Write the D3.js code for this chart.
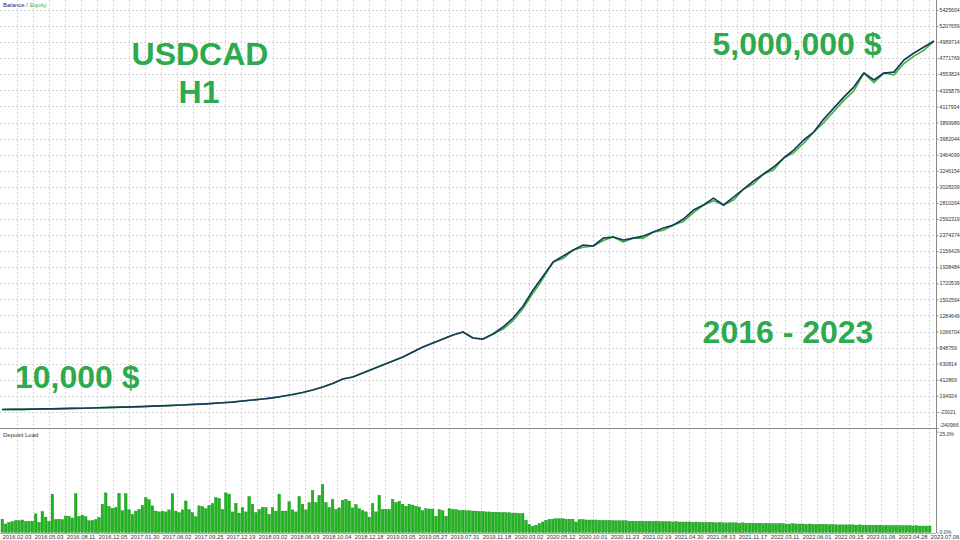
<!DOCTYPE html>
<html><head><meta charset="utf-8">
<script src="https://cdn.jsdelivr.net/npm/d3@7"></script>
<style>
html,body{margin:0;padding:0;background:#fff;}
svg{display:block;}
</style></head>
<body>
<svg id="c" width="960" height="540"></svg>
<script>
// ---- data ----
const yTickValues = [5425604,5207659,4989714,4771769,4553824,4335879,4117934,3899989,3682044,3464099,3246154,3028209,2810264,2592319,2374374,2156429,1938484,1720539,1502594,1284649,1066704,848759,630814,412869,194924,-23021,-240966];
const xTickLabels = ["2016.02.03","2016.05.03","2016.08.11","2016.12.05","2017.01.30","2017.06.02","2017.09.25","2017.12.19","2018.03.02","2018.06.19","2018.10.04","2018.12.18","2019.03.05","2019.05.27","2019.07.31","2019.11.18","2020.03.02","2020.05.12","2020.10.01","2020.11.23","2021.02.19","2021.04.30","2021.08.13","2021.11.17","2022.03.11","2022.06.01","2022.09.15","2023.01.06","2023.04.28","2023.07.06"];
const balance = [10000,11000,12000,15000,17000,19000,22000,25000,27000,30000,34000,38000,42000,46000,50000,55000,60000,65000,71000,78000,84000,92000,101000,111000,125000,139000,152000,168000,189000,213000,240000,274000,315000,362000,423000,450000,505000,559000,613000,667000,721000,789000,857000,911000,965000,1020000,1060000,979000,965000,1033000,1128000,1250000,1413000,1629000,1819000,2009000,2090000,2172000,2239000,2226000,2334000,2348000,2307000,2334000,2361000,2416000,2470000,2510000,2592000,2714000,2782000,2876000,2782000,2890000,2998000,3107000,3202000,3297000,3419000,3527000,3663000,3771000,3947000,4096000,4245000,4381000,4571000,4476000,4571000,4584000,4747000,4842000,4923000,5004000];
const equity = [10000,11000,12000,15000,17000,19000,22000,25000,27000,30000,34000,38000,42000,46000,50000,55000,60000,65000,71000,78000,84000,92000,101000,111000,125000,139000,152000,168000,189000,213000,240000,274000,315000,362000,423000,450000,505000,559000,613000,667000,721000,789000,857000,911000,965000,1020000,1060000,979000,965000,1033000,1100000,1215000,1380000,1590000,1790000,2009000,2060000,2172000,2210000,2226000,2300000,2348000,2280000,2334000,2330000,2416000,2440000,2510000,2560000,2680000,2782000,2840000,2782000,2850000,2998000,3070000,3202000,3260000,3419000,3490000,3620000,3771000,3900000,4050000,4200000,4330000,4571000,4440000,4571000,4545000,4700000,4800000,4880000,5004000];
const depositLoad = [
3.3,2.1,2.5,2.7,2.9,2.9,3.1,2.7,2.8,2.8,
4.6,2.5,5.2,3.8,2.7,9.5,3.2,3.3,3.2,4.1,
4.0,3.6,9.6,4.0,4.3,3.9,2.9,3.0,3.2,3.7,
7.0,9.8,6.4,6.0,6.2,9.7,5.4,9.6,5.6,4.5,
5.3,5.7,6.7,8.6,8.1,6.6,5.3,5.1,5.3,5.1,
5.6,9.6,5.3,4.9,5.6,7.8,5.7,4.9,3.9,6.6,
6.4,5.9,6.7,7.2,8.6,8.4,5.7,9.8,9.5,5.1,
7.2,4.8,6.2,5.1,8.9,7.0,4.9,5.7,6.2,6.2,
4.5,6.2,5.3,9.5,5.3,5.3,7.6,5.6,5.1,8.9,
7.0,5.6,7.4,10.4,7.4,9.2,11.9,7.4,6.2,8.2,
5.7,6.1,8.0,8.2,7.8,6.1,6.9,5.9,5.5,5.1,
3.8,7.2,5.1,9.2,5.7,5.7,5.7,8.2,7.4,7.7,
7.0,6.5,7.0,6.8,6.5,6.3,5.4,5.9,5.8,5.8,
4.0,5.7,5.4,4.0,5.9,5.7,5.7,5.5,5.5,5.4,
5.4,5.3,5.3,5.2,5.2,5.1,5.1,5.0,5.0,5.0,
4.9,4.9,4.9,4.8,4.8,4.7,4.7,3.0,2.0,1.5,
1.8,2.2,2.6,3.0,3.3,3.3,3.4,3.4,3.4,3.3,
3.3,3.3,2.6,3.2,3.2,3.1,3.1,3.1,3.1,3.0,
3.0,3.0,3.0,2.9,2.9,2.9,2.9,2.9,2.8,2.8,
2.8,2.8,2.8,2.8,2.8,2.7,2.8,2.7,2.7,2.7,
2.7,2.6,2.7,2.6,2.6,2.6,2.6,2.5,2.6,2.5,
2.5,2.5,2.5,2.5,2.4,2.5,2.4,2.4,2.4,2.4,
2.4,2.3,2.4,2.3,2.3,2.3,2.3,2.3,2.2,2.3,
2.2,2.2,2.2,2.2,2.2,2.1,2.1,2.2,2.1,2.1,
2.1,2.0,2.1,2.0,2.0,2.0,2.0,2.0,1.9,2.0,
1.9,1.9,1.9,1.9,1.9,1.9,1.8,1.9,1.8,1.8,
1.8,1.8,1.8,1.8,1.7,1.8,1.7,1.7,1.7,1.7,
1.7,1.7,1.7,1.6,1.7,1.6,1.6,1.6,1.6];
const depTickLabels = ["25.0%","0.0%"];
const depTickValues = [25,0];
const annotations = ["USDCAD","H1","5,000,000 $","2016 - 2023","10,000 $"];

// ---- drawing ----
const svg = d3.select("#c");
const FONT = "'Liberation Sans', Arial, sans-serif";
const plotRight = 936;
const mainTop = 0, mainBottom = 428;
const depTop = 430, depBottom = 533;

const yMain = d3.scaleLinear().domain([-240966, 5425604]).range([428, 10]);
const xMain = d3.scaleLinear().domain([0, balance.length - 1]).range([2, 934]);
const xLab = d3.scaleLinear().domain([0, xTickLabels.length - 1]).range([17, 945]);
const yDep = d3.scaleLinear().domain([0, 25]).range([532.5, 431.5]);
const xBar = d3.scaleBand().domain(d3.range(depositLoad.length)).range([1, 931]).paddingInner(0.22);

svg.append("rect").attr("width",960).attr("height",540).attr("fill","#fff");

// grids
const gridCol = "#d4d4d4";
const vGrid = d3.range(0, (xTickLabels.length - 1) * 2).map(i => xLab(i / 2)).filter(x => x < plotRight);
const g = svg.append("g");
g.selectAll("line.vg").data(vGrid).join("line")
  .attr("x1", d => Math.round(d) + 0.5).attr("x2", d => Math.round(d) + 0.5)
  .attr("y1", mainTop).attr("y2", depBottom)
  .attr("stroke", gridCol).attr("stroke-width", 1).attr("stroke-dasharray", "2,2");
g.selectAll("line.hg").data(yTickValues.slice(0, -1)).join("line")
  .attr("x1", 0).attr("x2", plotRight)
  .attr("y1", d => Math.round(yMain(d)) + 0.5).attr("y2", d => Math.round(yMain(d)) + 0.5)
  .attr("stroke", gridCol).attr("stroke-width", 1).attr("stroke-dasharray", "2,2");

// frames
svg.append("line").attr("x1", plotRight + 0.5).attr("x2", plotRight + 0.5).attr("y1", 0).attr("y2", depBottom)
  .attr("stroke", "#8a8a8a").attr("stroke-width", 1);
svg.append("line").attr("x1", 0).attr("x2", plotRight).attr("y1", mainBottom + 0.5).attr("y2", mainBottom + 0.5)
  .attr("stroke", "#8a8a8a").attr("stroke-width", 1);
svg.append("line").attr("x1", 0).attr("x2", plotRight).attr("y1", depBottom + 0.5).attr("y2", depBottom + 0.5)
  .attr("stroke", "#b0b0b0").attr("stroke-width", 1);

// right axis main
const axR = d3.axisRight(yMain).tickValues(yTickValues).tickSize(2).tickFormat(d => String(d));
const ga = svg.append("g").attr("transform", `translate(${plotRight + 0.5},0)`).call(axR);
ga.select(".domain").remove();
ga.selectAll("line").attr("stroke", "#8a8a8a");
ga.selectAll("text").attr("font-family", FONT).attr("font-size", 5.2).attr("fill", "#333").attr("x", 3);
ga.selectAll("text").filter(d => d === -240966).attr("dy", "-0.2em");

// deposit axis
const axD = d3.axisRight(yDep).tickValues(depTickValues).tickSize(2).tickFormat((d, i) => depTickLabels[i]);
const gd = svg.append("g").attr("transform", `translate(${plotRight + 0.5},0)`).call(axD);
gd.select(".domain").remove();
gd.selectAll("line").attr("stroke", "#8a8a8a");
gd.selectAll("text").attr("font-family", FONT).attr("font-size", 5.2).attr("fill", "#333").attr("x", 3)
  .attr("dy", (d) => d === 0 ? "0.1em" : "0.7em");

// bottom axis
const gx = svg.append("g");
gx.selectAll("text").data(xTickLabels).join("text")
  .attr("x", (d, i) => xLab(i)).attr("y", 539)
  .attr("text-anchor", "middle").attr("font-family", FONT).attr("font-size", 5.8).attr("fill", "#333")
  .text(d => d);

// deposit bars
svg.append("g").selectAll("rect").data(depositLoad).join("rect")
  .attr("x", (d, i) => xBar(i)).attr("width", xBar.bandwidth())
  .attr("y", d => yDep(d)).attr("height", d => yDep(0) - yDep(d))
  .attr("fill", "#22b422").attr("stroke", "#0f8f0f").attr("stroke-width", 0.4);

// equity + balance lines
const lineGen = d3.line().x((d, i) => xMain(i)).y(d => yMain(d));
svg.append("path").datum(equity).attr("d", lineGen).attr("fill", "none")
  .attr("stroke", "#3cb43c").attr("stroke-width", 1.6).attr("stroke-linejoin", "round");
svg.append("path").datum(balance).attr("d", lineGen).attr("fill", "none")
  .attr("stroke", "#173a5e").attr("stroke-width", 1.7).attr("stroke-linejoin", "round");

// small titles
const lg = svg.append("text").attr("x", 3).attr("y", 7).attr("font-family", FONT).attr("font-size", 6);
lg.append("tspan").attr("fill", "#1a237e").text("Balance");
lg.append("tspan").attr("fill", "#555").text(" / ");
lg.append("tspan").attr("fill", "#3cb43c").text("Equity");
svg.append("text").attr("x", 3).attr("y", 437).attr("font-family", FONT).attr("font-size", 6).attr("fill", "#333").text("Deposit Load");

// annotations
const green = "#2eaa4e";
const ann = [
  {t: annotations[0], x: 200, y: 65, a: "middle"},
  {t: annotations[1], x: 199, y: 103, a: "middle"},
  {t: annotations[2], x: 797, y: 55, a: "middle"},
  {t: annotations[3], x: 788, y: 343, a: "middle"},
  {t: annotations[4], x: 15, y: 388, a: "start"}
];
svg.append("g").selectAll("text").data(ann).join("text")
  .attr("x", d => d.x).attr("y", d => d.y).attr("text-anchor", d => d.a)
  .attr("font-family", FONT).attr("font-weight", "bold").attr("font-size", 32).attr("fill", green)
  .text(d => d.t);
</script>
</body></html>
